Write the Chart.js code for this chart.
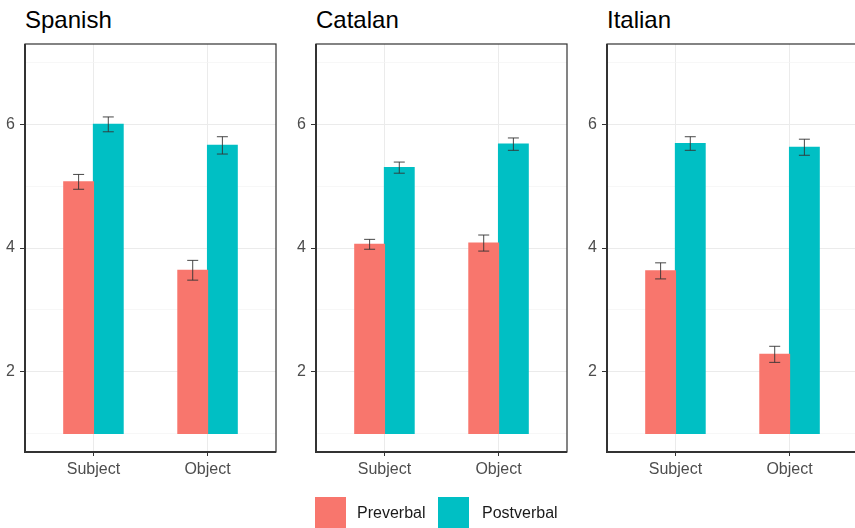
<!DOCTYPE html>
<html>
<head>
<meta charset="utf-8">
<script src="https://cdn.jsdelivr.net/npm/chart.js@4.4.1/dist/chart.umd.min.js"></script>
<style>
  html, body { margin: 0; padding: 0; background: #fff; }
  body { width: 855px; height: 528px; overflow: hidden; position: relative;
         font-family: 'Liberation Sans', Arial, sans-serif; }
  canvas { position: absolute; top: 0; }
  .title { position: absolute; top: 8px; font-size: 24px; line-height: 24px; color: #000; }
  .swatch { position: absolute; top: 497px; width: 31px; height: 31px; }
  .ltext { position: absolute; top: 504px; font-size: 16px; line-height: 18px; color: #1a1a1a; }
</style>
</head>
<body>
<div class="title" style="left:25px">Spanish</div>
<div class="title" style="left:316px">Catalan</div>
<div class="title" style="left:607px">Italian</div>
<canvas id="spanish" width="300" height="490" style="left:0px"></canvas>
<canvas id="catalan" width="300" height="490" style="left:291px"></canvas>
<canvas id="italian" width="300" height="490" style="left:582px"></canvas>

<div class="swatch" style="left:315px;background:#F8766D"></div>
<div class="ltext" style="left:357px">Preverbal</div>
<div class="swatch" style="left:438px;background:#00BFC4"></div>
<div class="ltext" style="left:482px">Postverbal</div>

<script>
// word order ratings, three languages, bars start at 1
const categories = ['Subject', 'Object'];
const groups = ['Preverbal', 'Postverbal'];
const groupColors = ['#F8766D', '#00BFC4'];
const yTickValues = [1, 2, 3, 4, 5, 6, 7];
const barBase = 1;

const spanishPre = [5.07, 3.64];
const spanishPreErr = [0.12, 0.16];
const spanishPost = [6.00, 5.66];
const spanishPostErr = [0.12, 0.14];

const catalanPre = [4.06, 4.08];
const catalanPreErr = [0.08, 0.13];
const catalanPost = [5.30, 5.68];
const catalanPostErr = [0.09, 0.10];

const italianPre = [3.63, 2.28];
const italianPreErr = [0.13, 0.13];
const italianPost = [5.69, 5.63];
const italianPostErr = [0.11, 0.13];

Chart.defaults.font.family = "'Liberation Sans', Arial, sans-serif";
Chart.defaults.font.size = 16;
Chart.defaults.color = '#4D4D4D';

const errorBars = {
    id: 'errorBars',
    afterDatasetsDraw(chart) {
        const ctx = chart.ctx;
        const y = chart.scales.y;
        ctx.save();
        ctx.strokeStyle = '#333';
        ctx.lineWidth = 0.9;
        chart.data.datasets.forEach((ds, i) => {
            const meta = chart.getDatasetMeta(i);
            meta.data.forEach((bar, j) => {
                const v = ds.data[j].y[1];
                const e = ds.errors[j];
                const top = y.getPixelForValue(v + e);
                const bot = y.getPixelForValue(v - e);
                ctx.beginPath();
                ctx.moveTo(bar.x, top); ctx.lineTo(bar.x, bot);
                ctx.moveTo(bar.x - 5.5, top); ctx.lineTo(bar.x + 5.5, top);
                ctx.moveTo(bar.x - 5.5, bot); ctx.lineTo(bar.x + 5.5, bot);
                ctx.stroke();
            });
        });
        ctx.restore();
    }
};

const panelBorder = {
    id: 'panelBorder',
    afterDraw(chart) {
        const ctx = chart.ctx;
        const a = chart.chartArea;
        ctx.save();
        ctx.strokeStyle = '#333';
        ctx.lineWidth = 1.2;
        ctx.strokeRect(a.left, a.top, a.right - a.left, a.bottom - a.top);
        ctx.lineWidth = 2;
        ctx.beginPath();
        ctx.moveTo(a.left, a.top);
        ctx.lineTo(a.left, a.bottom);
        ctx.lineTo(a.right, a.bottom);
        ctx.stroke();
        ctx.restore();
    }
};

function makePanel(id, pre, preErr, post, postErr) {
    const el = document.getElementById(id);
    const series = [[pre, preErr], [post, postErr]];
    new Chart(el, {
        type: 'bar',
        data: {
            datasets: series.map((s, i) => ({
                label: groups[i],
                backgroundColor: groupColors[i],
                borderWidth: 0,
                inflateAmount: 0.6,
                categoryPercentage: 0.52,
                barPercentage: 1,
                errors: s[1],
                data: categories.map((c, j) => ({ x: j + 1, y: [barBase, s[0][j]] }))
            }))
        },
        options: {
            responsive: false,
            animation: false,
            devicePixelRatio: 1,
            layout: { padding: { top: 44, right: 24, left: 0, bottom: 0 } },
            plugins: { legend: { display: false }, tooltip: { enabled: false } },
            scales: {
                x: {
                    type: 'linear',
                    min: 0.4,
                    max: 2.6,
                    offset: false,
                    afterBuildTicks: (axis) => { axis.ticks = categories.map((c, j) => ({ value: j + 1 })); },
                    afterFit: (scale) => { scale.height = 38; },
                    ticks: {
                        padding: 4,
                        maxRotation: 0,
                        callback: (v) => categories[v - 1]
                    },
                    grid: { offset: false, color: '#EBEBEB', lineWidth: 1, tickColor: '#333', tickLength: 4 },
                    border: { display: false }
                },
                y: {
                    min: 0.7,
                    max: 7.3,
                    afterBuildTicks: (axis) => { axis.ticks = yTickValues.map(v => ({ value: v })); },
                    afterFit: (scale) => { scale.width = 25; },
                    ticks: {
                        padding: 5,
                        callback: (v) => (v % 2 === 0 ? String(v) : '')
                    },
                    grid: {
                        color: (c) => (c.tick && c.tick.value % 2 === 0 ? '#EBEBEB' : '#F4F4F4'),
                        lineWidth: (c) => (c.tick && c.tick.value % 2 === 0 ? 1 : 0.7),
                        tickColor: (c) => (c.tick && c.tick.value % 2 === 0 ? '#333' : 'rgba(0,0,0,0)'),
                        tickLength: 5
                    },
                    border: { display: false }
                }
            }
        },
        plugins: [errorBars, panelBorder]
    });
}

makePanel('spanish', spanishPre, spanishPreErr, spanishPost, spanishPostErr);
makePanel('catalan', catalanPre, catalanPreErr, catalanPost, catalanPostErr);
makePanel('italian', italianPre, italianPreErr, italianPost, italianPostErr);
</script>
</body>
</html>
